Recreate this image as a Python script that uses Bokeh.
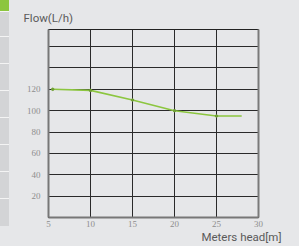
from bokeh.plotting import figure
from bokeh.models import FixedTicker, LinearAxis, Title, Div, Range1d, GlobalInlineStyleSheet
from bokeh.layouts import row
from bokeh.embed import file_html
from bokeh.resources import INLINE

# ---- data ----
head_m = [5.5, 10, 15, 20, 25, 28]
flow_lh = [120, 119, 110, 100, 95, 95]
x_ticks = [5, 10, 15, 20, 25, 30]
y_ticks = [20, 40, 60, 80, 100, 120]
y_grid = [20, 40, 60, 80, 100, 120, 140, 160]
x_grid = [10, 15, 20, 25]
y_title = "Flow(L/h)"
x_title = "Meters head[m]"

BG = "#e6e7e9"
GREEN = "#8cc63f"

# ---- left decorative strip ----
strip_heights = [24, 26, 26, 26, 26, 26, 26, 27]
blocks = ['<div style="box-sizing:content-box;width:9px;height:11px;background:%s;"></div>' % GREEN]
for h in strip_heights:
    blocks.append('<div style="box-sizing:content-box;width:9px;height:%dpx;background:#d3d4d6;'
                  'border-top:1px solid #f4f4f4;"></div>' % h)
strip = Div(text="".join(blocks), width=9, height=246, margin=0,
            styles={"background": BG})

# ---- figure ----
p = figure(width=290, height=246, output_backend="svg", toolbar_location=None,
           x_range=Range1d(5, 30), y_range=Range1d(0, 176),
           min_border_left=39, min_border_right=41, min_border_top=29, min_border_bottom=29,
           background_fill_color=BG, border_fill_color=BG, margin=0)
p.outline_line_color = "#222222"
p.outline_line_width = 1

p.xaxis.ticker = FixedTicker(ticks=x_ticks)
p.yaxis.ticker = FixedTicker(ticks=y_ticks)
p.xgrid.ticker = FixedTicker(ticks=x_grid)
p.ygrid.ticker = FixedTicker(ticks=y_grid)
for g in (p.xgrid, p.ygrid):
    g.grid_line_color = "#2a2a2a"
    g.grid_line_width = 1

for ax in (p.xaxis, p.yaxis):
    ax.axis_line_color = "#777777"
    ax.axis_line_width = 2
    ax.major_tick_line_color = None
    ax.minor_tick_line_color = None
    ax.major_tick_out = 0
    ax.major_tick_in = 0
    ax.major_label_text_font = "Liberation Serif"
    ax.major_label_text_font_size = "9px"
    ax.major_label_text_color = "#8e8e8e"
p.yaxis.major_label_standoff = 8
p.xaxis.major_label_standoff = 3

right_ax = LinearAxis(ticker=FixedTicker(ticks=[]), axis_line_color="#7a7a7a", axis_line_width=2,
                      major_tick_line_color=None, minor_tick_line_color=None,
                      major_tick_out=0, major_label_text_font_size="0px")
p.add_layout(right_ax, "right")

p.line(head_m, flow_lh, line_color=GREEN, line_width=1.6)
p.scatter(head_m[:-1], flow_lh[:-1], size=2.5, color="#6f9f35")

p.add_layout(Title(text=y_title, align="left", offset=-25, standoff=10, vertical_align="bottom",
                   text_font="Roboto", text_font_size="11.5px", text_font_style="normal",
                   text_color="#5a5a5a"), "above")
p.add_layout(Title(text=x_title, align="right", offset=-23, standoff=0, vertical_align="top",
                   text_font="Roboto", text_font_size="11.5px", text_font_style="normal",
                   text_color="#5a5a5a"), "below")

layout = row(strip, p, spacing=0, margin=0)
layout.stylesheets = [GlobalInlineStyleSheet(css="html,body{margin:0 !important;padding:0;background:#e6e7e9;overflow:hidden;}")]

open("out.html", "w").write(file_html(layout, INLINE))
